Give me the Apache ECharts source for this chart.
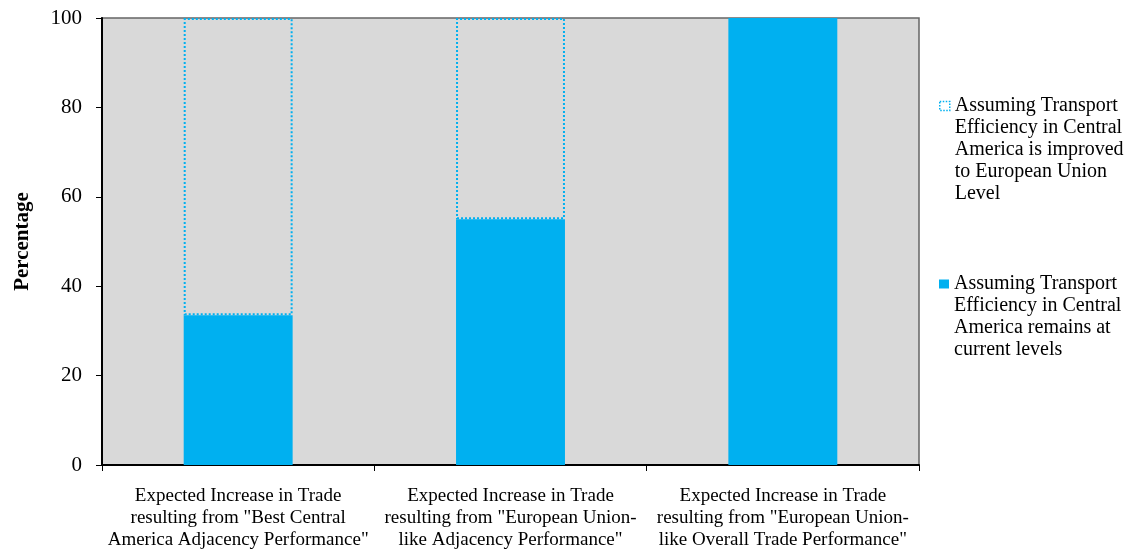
<!DOCTYPE html>
<html>
<head>
<meta charset="utf-8">
<script src="https://cdn.jsdelivr.net/npm/echarts@6/dist/echarts.min.js"></script>
<style>
html,body{margin:0;padding:0;background:#fff;}
#chart{width:1128px;height:550px;}
</style>
</head>
<body>
<div id="chart"></div>
<script>
const categories = [
  'Expected Increase in Trade\nresulting from "Best Central\nAmerica Adjacency Performance"',
  'Expected Increase in Trade\nresulting from "European Union-\nlike Adjacency Performance"',
  'Expected Increase in Trade\nresulting from "European Union-\nlike Overall Trade Performance"'
];
const currentName = 'Assuming Transport\nEfficiency in Central\nAmerica remains at\ncurrent levels';
const improvedName = 'Assuming Transport\nEfficiency in Central\nAmerica is improved\nto European Union\nLevel';
const currentValues = [33.5, 55, 100];
const improvedExtra = [66.5, 45, 0];
const yTicks = [0, 20, 40, 60, 80, 100];

const FONT = '"Liberation Serif", "DejaVu Serif", serif';
const BLUE = '#00b0f0';
const LH = 22;

function legendFor(name, itemStyle, top) {
  const lines = name.split('\n').length;
  return {
    left: 934, top: top, orient: 'vertical',
    itemWidth: 10, itemHeight: 9, itemGap: 0,
    selectedMode: false,
    data: [{ name: name, icon: 'rect', itemStyle: itemStyle }],
    formatter: n => '\n'.repeat(lines - 1) + n,
    textStyle: { fontFamily: FONT, fontSize: 20, color: '#000', lineHeight: LH }
  };
}

const chart = echarts.init(document.getElementById('chart'), null, { renderer: 'canvas' });
chart.setOption({
  animation: false,
  backgroundColor: '#fff',
  grid: {
    left: 102, right: 209, top: 18, bottom: 85,
    outerBoundsMode: 'none', containLabel: false,
    show: true, backgroundColor: '#d9d9d9', borderColor: '#666', borderWidth: 1.5
  },
  legend: [
    legendFor(improvedName, { color: 'rgba(0,0,0,0)', borderColor: BLUE, borderWidth: 1.5, borderType: 'dotted' }, 2),
    legendFor(currentName, { color: BLUE, borderWidth: 0 }, 202)
  ],
  xAxis: {
    type: 'category',
    data: categories,
    boundaryGap: true,
    axisLine: { lineStyle: { color: '#000', width: 2 } },
    axisTick: { show: true, length: 6, lineStyle: { color: '#000', width: 1 } },
    axisLabel: {
      fontFamily: FONT, fontSize: 19, color: '#000', lineHeight: LH,
      margin: 20, interval: 0
    }
  },
  yAxis: {
    type: 'value',
    min: yTicks[0], max: yTicks[yTicks.length - 1], interval: 20,
    name: 'Percentage',
    nameLocation: 'middle',
    nameGap: 69,
    nameRotate: 90,
    nameTextStyle: { fontFamily: FONT, fontSize: 21, fontWeight: 'bold', color: '#000' },
    axisLine: { show: true, lineStyle: { color: '#000', width: 2 } },
    axisTick: { show: true, length: 6, lineStyle: { color: '#000', width: 1 } },
    axisLabel: { fontFamily: FONT, fontSize: 21, color: '#000', margin: 20 },
    splitLine: { show: false }
  },
  series: [
    {
      name: currentName, type: 'bar', stack: 'total', barWidth: '40%',
      data: currentValues,
      itemStyle: { color: BLUE }
    },
    {
      name: improvedName, type: 'bar', stack: 'total', barWidth: '40%',
      data: improvedExtra.map(v => v === 0 ? '-' : v),
      itemStyle: { color: 'rgba(0,0,0,0)', borderColor: BLUE, borderWidth: 2, borderType: 'dotted' }
    }
  ]
});
</script>
</body>
</html>
